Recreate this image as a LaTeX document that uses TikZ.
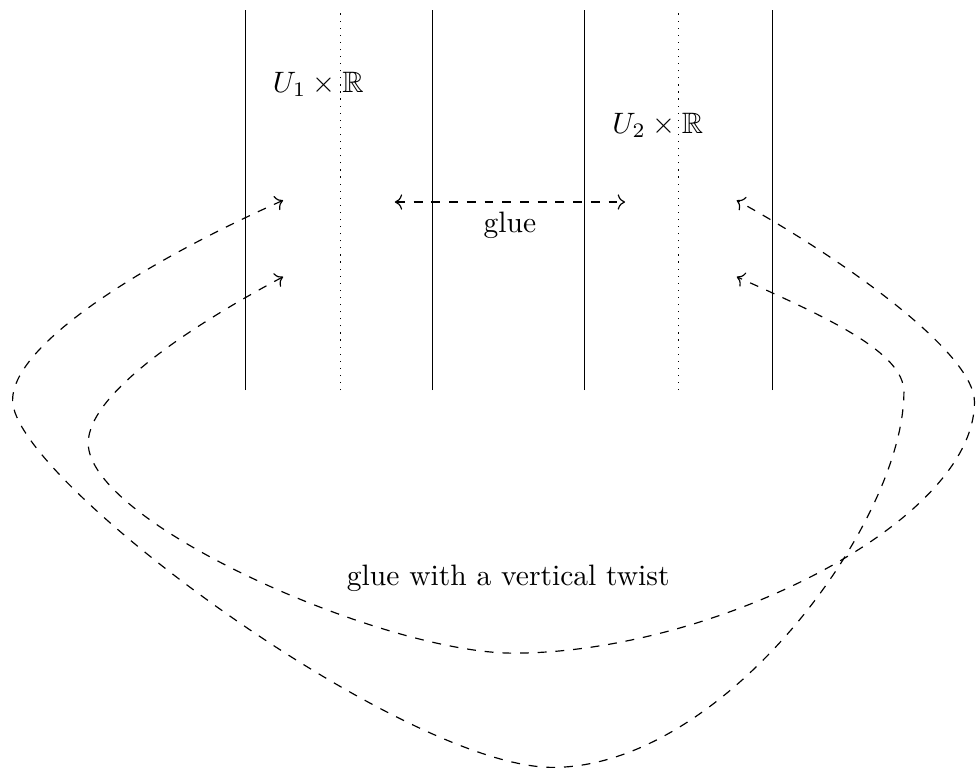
\documentclass[tikz,border=0pt]{standalone}
\usepackage{amsmath}
\usepackage{amssymb}
\usepackage{tikz}
\usetikzlibrary{arrows.meta}

\begin{document}
\begin{tikzpicture}[gluearrow/.style={dashed,<->}]
  \useasboundingbox (0,0) rectangle (11.63,9.155);
  % the two strips
  \draw (2.92,4.51) -- (2.92,9.04);
  \draw[dotted] (4.05,4.51) -- (4.05,9.04);
  \draw (5.15,4.51) -- (5.15,9.04);
  \draw (6.96,4.51) -- (6.96,9.04);
  \draw[dotted] (8.08,4.51) -- (8.08,9.04);
  \draw (9.20,4.51) -- (9.20,9.04);
  \node (uone) at (3.79,8.15) {$U_1\times\mathbb{R}$};
  \node (utwo) at (7.83,7.66) {$U_2\times\mathbb{R}$};
  % plain glue
  \coordinate (gl) at (4.70,6.75);
  \coordinate (gr) at (7.44,6.75);
  \draw[gluearrow] (gl) -- (gr) node[midway,below] {glue};
  % glue with the twist
  \coordinate (lt) at (3.37,6.77);
  \coordinate (lb) at (3.37,5.86);
  \coordinate (rt) at (8.77,6.77);
  \coordinate (rb) at (8.77,5.86);
  \draw[gluearrow] (lt) .. controls (1.95,6.14) and (0.15,5.11) .. (0.15,4.39)
    .. controls (0.15,3.44) and (4.80,0.02) .. (6.58,0.02)
    .. controls (8.61,0.02) and (10.76,2.94) .. (10.76,4.49)
    .. controls (10.76,4.96) and (9.86,5.37) .. (rb);
  \draw[gluearrow] (lb) .. controls (2.32,5.30) and (1.05,4.48) .. (1.05,3.88)
    .. controls (1.05,2.93) and (4.56,1.38) .. (6.11,1.38)
    .. controls (8.49,1.38) and (11.60,2.94) .. (11.60,4.37)
    .. controls (11.60,4.96) and (10.02,6.08) .. (rt);
  \node (twist) at (6.05,2.27) {glue with a vertical twist};
\end{tikzpicture}
\end{document}
